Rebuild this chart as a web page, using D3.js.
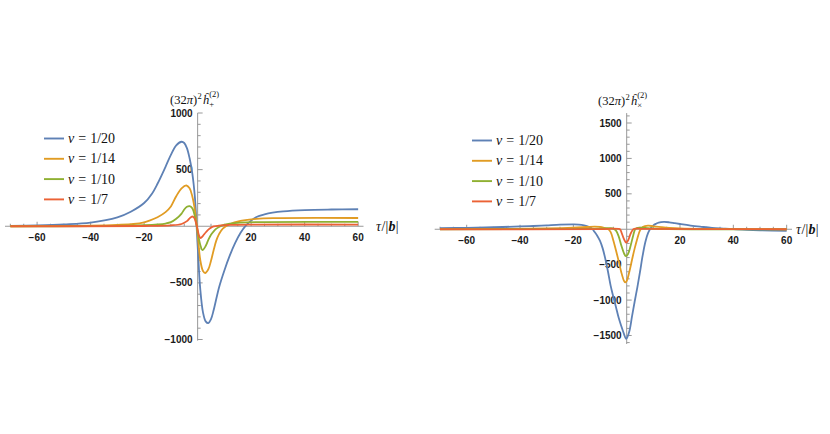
<!DOCTYPE html>
<html><head><meta charset="utf-8">
<script src="https://cdn.jsdelivr.net/npm/d3@7"></script>
<style>
html,body{margin:0;padding:0;background:#fff;}
svg{display:block;}
</style>
</head><body>
<svg id="chart" width="830" height="434"></svg>
<script>
// ---------- data ----------
const seriesNames = ["v = 1/20", "v = 1/14", "v = 1/10", "v = 1/7"];
const seriesColors = ["#5E81B5", "#E19C24", "#8FB032", "#EB6235"];

const xMajorTicks = [-60, -40, -20, 20, 40, 60];
const yMajorTicksPlus = [-1000, -500, 500, 1000];
const yMajorTicksCross = [-1500, -1000, -500, 500, 1000, 1500];

// h_plus panel: [tau, value]
const plusV20 = [[-70,4],[-60,8],[-50,16],[-40,32],[-30,78],[-25,128],[-20,205],[-17,290],[-15,375],[-12,525],[-10,630],[-8,715],[-6,746],[-5,735],[-4,690],[-3,600],[-2,470],[-1,250],[0,-170],[1,-560],[2,-760],[3,-840],[4,-856],[5,-820],[6,-740],[8,-540],[10,-390],[12,-260],[14,-150],[16,-60],[18,5],[20,50],[22,82],[25,105],[28,120],[32,132],[40,143],[50,148],[60,150]];
const plusV14 = [[-70,0],[-50,2],[-40,5],[-30,12],[-24,20],[-20,35],[-18,50],[-15,80],[-12,125],[-10,175],[-8,265],[-6,335],[-4.2,360],[-3,335],[-2,265],[-1,140],[0,-70],[1,-300],[2,-395],[2.8,-413],[4,-380],[5,-305],[6,-210],[7,-125],[8,-70],[9.4,-21],[12,18],[16,47],[22,66],[30,72],[60,73]];
const plusV10 = [[-70,0],[-40,1],[-25,5],[-20,9],[-15,16],[-12,24],[-10,36],[-8,66],[-6,112],[-5,148],[-4,172],[-3,178],[-2,158],[-1,85],[0,-45],[1,-165],[1.8,-210],[3,-175],[4,-120],[5,-75],[6,-45],[7,-21],[8,-6],[9.5,9],[12,22],[16,32],[25,37],[60,38]];
const plusV7 = [[-70,0],[-20,2],[-10,8],[-6,20],[-4,45],[-3,70],[-2,86],[-1.3,75],[-0.5,20],[0,-30],[0.5,-80],[1.1,-105],[2,-85],[3,-55],[4,-30],[5,-12],[6,-2],[8,6],[12,12],[20,15],[60,15]];

// h_cross panel: [tau, value]
const crossV20 = [[-70,15],[-60,20],[-50,28],[-40,40],[-35,46],[-30,55],[-25,64],[-20,68],[-18,66],[-16,55],[-14,30],[-13,8],[-12,-40],[-11,-95],[-10,-165],[-9,-270],[-8,-420],[-7,-600],[-6,-800],[-5,-955],[-4,-1100],[-3,-1250],[-2,-1370],[-1,-1480],[-0.3,-1545],[0,-1540],[1,-1440],[2,-1230],[3,-1020],[4,-820],[5,-600],[6,-370],[7,-180],[8,-55],[9,15],[10,55],[11,78],[12,95],[14,104],[16,98],[18,86],[20,74],[24,52],[28,35],[32,20],[37,10],[40,3],[45,-8],[50,-15],[60,-22]];
const crossV14 = [[-70,3],[-50,5],[-30,12],[-20,22],[-15,32],[-12,38],[-10,33],[-8,15],[-7,5],[-6,-40],[-5,-160],[-4,-300],[-3,-450],[-2,-610],[-1,-730],[-0.6,-750],[0,-730],[1,-600],[2,-430],[3,-270],[4,-130],[5,-15],[6,30],[8,50],[10,42],[13,30],[16,20],[20,12],[30,5],[60,0]];
const crossV10 = [[-70,0],[-20,3],[-10,8],[-7,15],[-6,15],[-5,8],[-4,-20],[-3,-100],[-2,-230],[-1,-340],[-0.3,-380],[0.5,-350],[1.5,-230],[2.5,-80],[3.2,0],[4,20],[6,22],[8,15],[12,5],[60,0]];
const crossV7 = [[-70,0],[-10,2],[-5,8],[-3,5],[-2.5,0],[-2,-40],[-1,-140],[-0.2,-190],[0.5,-160],[1.5,-60],[2.5,0],[3.5,10],[6,6],[60,0]];

// ---------- drawing ----------
const svg = d3.select("#chart");
const SERIF = "'Liberation Serif', 'DejaVu Serif', 'Times New Roman', serif";
const SANS = "'Liberation Sans', Arial, sans-serif";

function mtext(g, x, y, str, size, opts = {}) {
  const t = g.append("text").attr("x", x).attr("y", y)
    .style("font-family", SERIF).style("font-size", size + "px").attr("fill", "#111").text(str);
  if (opts.italic) t.style("font-style", "italic");
  if (opts.bold) t.style("font-weight", "bold");
  if (opts.anchor) t.attr("text-anchor", opts.anchor);
  return t;
}

function drawPanel(cfg) {
  const g = svg.append("g");
  const x = d3.scaleLinear().domain([-72, 62]).range(cfg.xRange);
  const y = d3.scaleLinear().domain(cfg.yDomain).range(cfg.yRange);
  const x0 = x(0), y0 = y(0);
  const axisColor = "#999";

  // x axis line
  g.append("line").attr("x1", x(-72)).attr("x2", x(62)).attr("y1", y0).attr("y2", y0)
    .attr("stroke", axisColor).attr("stroke-width", 1);
  d3.range(-70, 61, 5).forEach(t => {
    if (t === 0) return;
    const major = t % 20 === 0;
    g.append("line").attr("x1", x(t)).attr("x2", x(t)).attr("y1", y0).attr("y2", y0 - (major ? 4.5 : 2.5))
      .attr("stroke", axisColor).attr("stroke-width", 1);
  });
  xMajorTicks.forEach(t => {
    g.append("text").attr("x", x(t)).attr("y", y0 + 14.5)
      .style("font-family", SANS).style("font-weight", "bold").style("font-size", "10px").attr("fill", "#1a1a1a")
      .attr("text-anchor", "middle").text(t < 0 ? "\u2212" + Math.abs(t) : String(t));
  });

  // y axis line
  g.append("line").attr("x1", x0).attr("x2", x0).attr("y1", y(cfg.yAxisExt[1])).attr("y2", y(cfg.yAxisExt[0]))
    .attr("stroke", axisColor).attr("stroke-width", 1);
  d3.range(cfg.yMinorRange[0], cfg.yMinorRange[1] + 1, 100).forEach(v => {
    if (v === 0) return;
    const major = v % 500 === 0;
    g.append("line").attr("x1", x0).attr("x2", x0 + (major ? 5 : 3)).attr("y1", y(v)).attr("y2", y(v))
      .attr("stroke", axisColor).attr("stroke-width", 1);
  });
  cfg.yTicks.forEach(v => {
    g.append("text").attr("x", x0 - 5).attr("y", y(v)).attr("dy", "0.35em")
      .style("font-family", SANS).style("font-weight", "bold").style("font-size", "10px").attr("fill", "#1a1a1a")
      .attr("text-anchor", "end").text(v < 0 ? "\u2212" + Math.abs(v) : String(v));
  });

  // series
  const line = d3.line().x(d => x(d[0])).y(d => y(d[1])).curve(d3.curveCatmullRom.alpha(0.5));
  cfg.series.forEach((s, i) => {
    g.append("path").datum(s).attr("d", line).attr("fill", "none")
      .attr("stroke", seriesColors[i]).attr("stroke-width", 1.8).attr("stroke-linejoin", "round");
  });

  // legend
  seriesNames.forEach((name, i) => {
    const ly = cfg.legendY + i * 20.3;
    g.append("line").attr("x1", cfg.legendX).attr("x2", cfg.legendX + 20).attr("y1", ly).attr("y2", ly)
      .attr("stroke", seriesColors[i]).attr("stroke-width", 1.9);
    const parts = name.split(" = ");
    let cx = cfg.legendX + 24;
    const a = mtext(g, cx, ly + 4.5, parts[0], 14, {italic: true});
    cx += a.node().getComputedTextLength() + 4;
    const b = mtext(g, cx, ly + 4.5, "=", 14);
    cx += b.node().getComputedTextLength() + 4;
    mtext(g, cx, ly + 4.5, parts[1], 14);
  });

  // y label (32π)^2 ĥ_{sub}^{(2)}
  let lx = cfg.yLabelX;
  const ly = cfg.yLabelY;
  const fs = 12.5, ss = 8.5;
  let t = mtext(g, lx, ly, "(32", fs); lx += t.node().getComputedTextLength();
  t = mtext(g, lx, ly, "\u03C0", fs, {italic: true}); lx += t.node().getComputedTextLength();
  t = mtext(g, lx, ly, ")", fs); lx += t.node().getComputedTextLength() + 0.5;
  t = mtext(g, lx, ly - 5, "2", ss); lx += t.node().getComputedTextLength() + 0.8;
  t = mtext(g, lx, ly, "\u0125", fs, {italic: true}); lx += t.node().getComputedTextLength() + 0.3;
  mtext(g, lx, ly + 3, cfg.sub, ss);
  mtext(g, lx, ly - 7, "(2)", ss);

  // x label τ/|b|
  let xx = cfg.xLabelX;
  const xy = y0 + 5;
  t = mtext(g, xx, xy, "\u03C4", 14, {italic: true}); xx += t.node().getComputedTextLength() + 0.5;
  t = mtext(g, xx, xy, "/|", 14); xx += t.node().getComputedTextLength() + 0.3;
  t = mtext(g, xx, xy, "b", 14, {bold: true, italic: true}); xx += t.node().getComputedTextLength() + 0.3;
  mtext(g, xx, xy, "|", 14);
}

drawPanel({
  xRange: [5, 363.5],
  yDomain: [-1000, 1000], yRange: [339.5, 113],
  yAxisExt: [-1010, 1000], yMinorRange: [-1000, 1000],
  yTicks: yMajorTicksPlus,
  series: [plusV20, plusV14, plusV10, plusV7],
  legendX: 44, legendY: 138.5,
  yLabelX: 170, yLabelY: 104, sub: "+",
  xLabelX: 376
});

drawPanel({
  xRange: [434.7, 792],
  yDomain: [-1500, 1500], yRange: [335.5, 123],
  yAxisExt: [-1620, 1640], yMinorRange: [-1600, 1600],
  yTicks: yMajorTicksCross,
  series: [crossV20, crossV14, crossV10, crossV7],
  legendX: 472, legendY: 140.5,
  yLabelX: 598, yLabelY: 105, sub: "\u00D7",
  xLabelX: 796
});
</script>
</body></html>
